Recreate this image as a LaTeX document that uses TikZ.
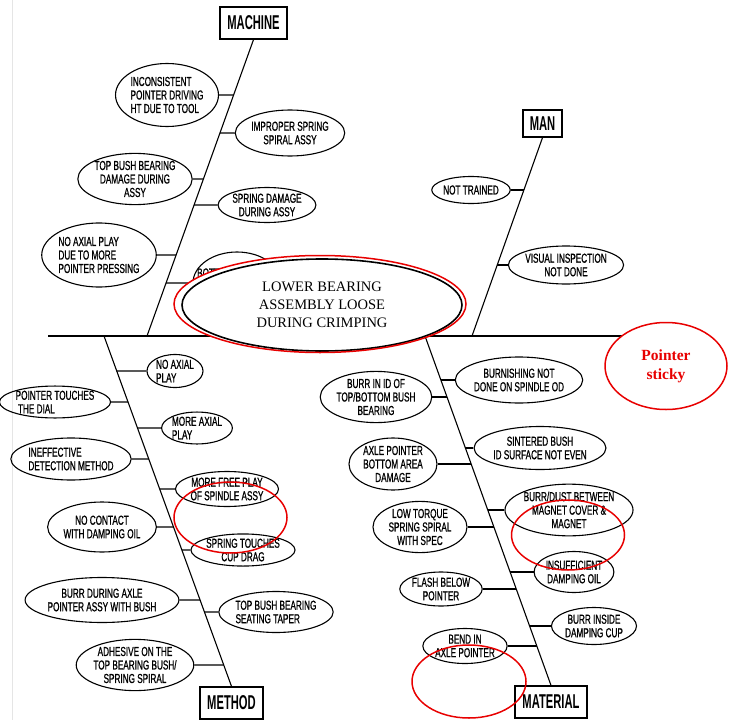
\documentclass[tikz,border=0pt]{standalone}
\usepackage{fontspec}
\setmainfont{Liberation Serif}
\newfontfamily\cadfont[FakeStretch=0.63,FakeBold=0.8]{Liberation Sans}
\newfontfamily\boxfont[FakeStretch=0.56]{Liberation Sans}
\usetikzlibrary{shapes.geometric,calc}
\definecolor{mark}{RGB}{232,0,0}
\tikzset{
  cause/.style={ellipse, draw, line width=1.1pt, inner sep=0pt, align=center,
    font=\cadfont\fontsize{13}{13.5}\selectfont},
  sz/.style 2 args={minimum width=#1pt, minimum height=#2pt},
  catbox/.style={draw, line width=1.3pt, inner sep=0pt,
    font=\boxfont\bfseries\fontsize{20}{20}\selectfont},
  boneline/.style={line width=1.1pt},
  ribline/.style={line width=1.1pt},
  spineline/.style={line width=1.6pt},
  redring/.style={ellipse, draw=mark, line width=1.5pt, inner sep=0pt}
}
\newcommand\rib[4]{\draw[ribline] (#1.#2) -- (intersection cs: first line={(#1.#2)--($(#1.#2)+(10,0)$)}, second line={(#3)--(#4)});}
\begin{document}
\begin{tikzpicture}[x=1pt,y=-1pt]
\fill[white] (0,0) rectangle (731,720);
\useasboundingbox (0,0) rectangle (731,720);
\draw[black!10, line width=1pt] (12.5,0) -- (12.5,720);

% category boxes
\node[catbox, sz={67}{32}] (mach) at (253.5,23) {MACHINE};
\node[catbox, sz={39}{27}] (man) at (542.5,123.5) {MAN};
\node[catbox, sz={63}{32}] (meth) at (231.5,703) {METHOD};
\node[catbox, sz={72}{32}] (mat) at (551,702) {MATERIAL};

% spine
\coordinate (sL) at (48,336);
\coordinate (sR) at (622,336);
\coordinate (Mb) at (147,336);
\coordinate (Nb) at (472,336);
\coordinate (Tb) at (104,336);
\coordinate (Ab) at (425,336);
\draw[spineline] (sL) -- (sR);

% bones
\draw[boneline] (mach.south) -- (Mb);
\draw[boneline] (man.south) -- (Nb);
\draw[boneline] (Tb) -- (meth.north);
\draw[boneline] (Ab) -- (mat.north);

% machine causes
\node[cause, sz={85}{63}, align=left] (m1) at (167,95) {INCONSISTENT\\POINTER DRIVING\\HT DUE TO TOOL};
\node[cause, sz={84}{46}] (m2) at (290,133) {IMPROPER SPRING\\SPIRAL ASSY};
\node[cause, sz={85}{48}] (m3) at (135,179) {TOP BUSH BEARING\\DAMAGE DURING\\ASSY};
\node[cause, sz={83}{35}] (m4) at (267,205) {SPRING DAMAGE\\DURING ASSY};
\node[cause, sz={100}{64}, align=left] (m5) at (99,255) {NO AXIAL PLAY\\DUE TO MORE\\POINTER PRESSING};
\node[cause, sz={88}{62}] (m6) at (237,283) {};
\node[anchor=west, inner sep=0pt, font=\cadfont\fontsize{13}{13.5}\selectfont] (m6t) at (197,273) {BOTT};
\rib{m1}{east}{mach.south}{Mb}
\rib{m2}{west}{mach.south}{Mb}
\rib{m3}{east}{mach.south}{Mb}
\rib{m4}{west}{mach.south}{Mb}
\rib{m5}{east}{mach.south}{Mb}
\rib{m6}{west}{mach.south}{Mb}

% man causes
\node[cause, sz={70}{27}] (n1) at (471,190) {NOT TRAINED};
\node[cause, sz={93}{38}] (n2) at (566,265) {VISUAL INSPECTION\\NOT DONE};
\rib{n1}{east}{man.south}{Nb}
\rib{n2}{west}{man.south}{Nb}

% method causes
\node[cause, sz={56}{33}, align=left] (t1) at (175,371) {NO AXIAL\\PLAY};
\node[cause, sz={67}{31}, align=left] (t2) at (197,428) {MORE AXIAL\\PLAY};
\node[cause, sz={86}{35}] (t3) at (227,489) {MORE FREE PLAY\\OF SPINDLE ASSY};
\node[cause, sz={81}{30}] (t4) at (243,550) {SPRING TOUCHES\\CUP DRAG};
\node[cause, sz={97}{41}, align=left] (t5) at (276,612) {TOP BUSH BEARING\\SEATING TAPER};
\node[cause, sz={80}{31}, align=left] (t6) at (55,402) {POINTER TOUCHES\\\ THE DIAL};
\node[cause, sz={95}{42}, align=left] (t7) at (71,459) {INEFFECTIVE\\DETECTION METHOD};
\node[cause, sz={87}{50}] (t8) at (102,527) {NO CONTACT\\WITH DAMPING OIL};
\node[cause, sz={130}{45}] (t9) at (102,600) {BURR DURING AXLE\\POINTER ASSY WITH BUSH};
\node[cause, sz={105}{45}] (t10) at (135,665) {ADHESIVE ON THE\\TOP BEARING BUSH/\\SPRING SPIRAL};
\rib{t1}{west}{Tb}{meth.north}
\rib{t2}{west}{Tb}{meth.north}
\rib{t3}{west}{Tb}{meth.north}
\rib{t4}{west}{Tb}{meth.north}
\rib{t5}{west}{Tb}{meth.north}
\rib{t6}{east}{Tb}{meth.north}
\rib{t7}{east}{Tb}{meth.north}
\rib{t8}{east}{Tb}{meth.north}
\rib{t9}{east}{Tb}{meth.north}
\rib{t10}{east}{Tb}{meth.north}

% material causes
\node[cause, sz={102}{46}] (a1) at (519,380) {BURNISHING NOT\\DONE ON SPINDLE OD};
\node[cause, sz={98}{43}] (a2) at (540,448) {SINTERED BUSH\\ID SURFACE NOT EVEN};
\node[cause, sz={106}{46}] (a3) at (569,510) {BURR/DUST BETWEEN\\MAGNET COVER \&\\MAGNET};
\node[cause, sz={71}{41}] (a4) at (574,572) {INSUFFICIENT\\DAMPING OIL};
\node[cause, sz={85}{37}] (a5) at (594,626) {BURR INSIDE\\DAMPING CUP};
\node[cause, sz={87}{51}] (a6) at (376,397) {BURR IN ID OF\\TOP/BOTTOM BUSH\\BEARING};
\node[cause, sz={88}{52}] (a7) at (393,464) {AXLE POINTER\\BOTTOM AREA\\DAMAGE};
\node[cause, sz={94}{50}] (a8) at (420,527) {LOW TORQUE\\SPRING SPIRAL\\WITH SPEC};
\node[cause, sz={76}{34}] (a9) at (441,589) {FLASH BELOW\\POINTER};
\node[cause, sz={80}{35}] (a10) at (465,646) {BEND IN\\AXLE POINTER};
\rib{a1}{west}{Ab}{mat.north}
\rib{a2}{west}{Ab}{mat.north}
\rib{a3}{west}{Ab}{mat.north}
\rib{a4}{west}{Ab}{mat.north}
\rib{a5}{west}{Ab}{mat.north}
\rib{a6}{east}{Ab}{mat.north}
\rib{a7}{east}{Ab}{mat.north}
\rib{a8}{east}{Ab}{mat.north}
\rib{a9}{east}{Ab}{mat.north}
\rib{a10}{east}{Ab}{mat.north}

% problem
\node[ellipse, fill=white, inner sep=0pt, sz={292}{97}] (probW) at (320,304) {};
\node[ellipse, draw, fill=white, line width=1.6pt, inner sep=0pt, sz={280}{92}, align=center,
  font=\fontsize{14.5}{18}\selectfont] (prob) at (322,305) {LOWER BEARING\\ASSEMBLY LOOSE\\DURING CRIMPING};
\node[redring, sz={292}{97}] (probR) at (320,304) {};

\node[redring, sz={122}{87}, text=mark, align=center,
  font=\bfseries\fontsize{15.5}{19}\selectfont] (ptr) at (666,366) {Pointer\\sticky};

% red annotation rings
\node[redring, sz={113}{71}] (r1) at (230.5,517.5) {};
\node[redring, sz={113}{70}] (r2) at (568,535) {};
\node[redring, sz={114}{73}] (r3) at (469,681.5) {};
\end{tikzpicture}
\end{document}
